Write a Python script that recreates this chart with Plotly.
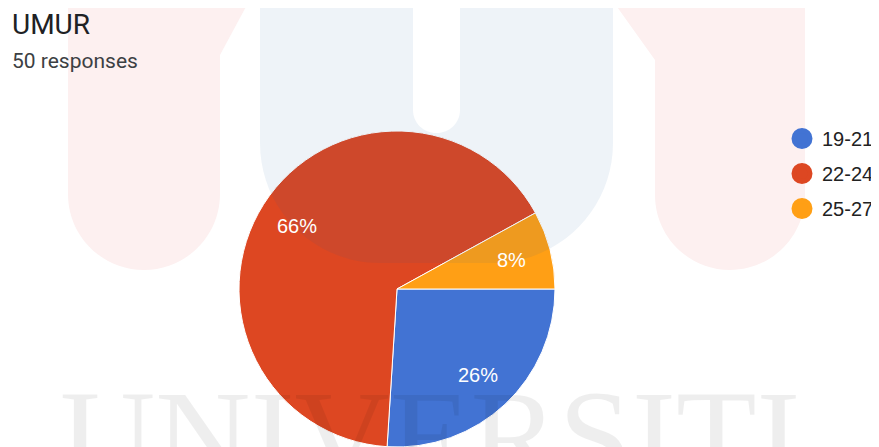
import math
import plotly.graph_objects as go

# chart data
age_groups = ["19-21", "22-24", "25-27"]
respondents = [13, 33, 4]
slice_colors = ["#4273d3", "#dd4722", "#ff9f15"]
title_text = "UMUR"
subtitle_text = "50 responses"
watermark_text = "UNIVERSITI"

# page is 879x447 but the body has an 8px margin, so the figure is 871x439
# and the hidden axes map 1 unit to 1 page pixel
PAGE_W, PAGE_H, OFF = 879, 447, 8
W, H = PAGE_W - OFF, PAGE_H - OFF
K = 0.5523  # bezier factor for quarter circles

# pie placement (page pixels)
PIE_CX, PIE_CY, PIE_R = 397, 289, 158


def round_bottom(x0, x1, yb, r):
    # path piece: down the left side, round bottom corners, up to the right side
    cy = yb - r
    kr = K * r
    return (f"L {x0},{cy} C {x0},{cy + kr} {x0 + r - kr},{yb} {x0 + r},{yb} "
            f"L {x1 - r},{yb} C {x1 - r + kr},{yb} {x1},{cy + kr} {x1},{cy} ")


# faint logo watermark behind / over the chart
left_pill = "M 68,-10 " + round_bottom(68, 220, 270, 76) + "L 220,55 L 255,-10 Z"
right_pill = "M 605,-10 L 655,60 " + round_bottom(655, 805, 270, 75) + "L 805,-10 Z"
blue_u = ("M 260,-10 " + round_bottom(260, 613, 263, 120) + "L 613,-10 L 460,-10 "
          + "L 460,110 C 460,123 449.5,133 436.5,133 C 423.5,133 413,123 413,110 "
          + "L 413,-10 Z")

fig = go.Figure()

fig.add_trace(go.Pie(
    labels=age_groups,
    values=respondents,
    sort=False,
    direction="clockwise",
    rotation=90,
    marker=dict(colors=slice_colors, line=dict(color="white", width=1)),
    textinfo="none",
    showlegend=False,
    domain=dict(x=[(PIE_CX - PIE_R - OFF) / W, (PIE_CX + PIE_R - OFF) / W],
                y=[0, 1 - (PIE_CY - PIE_R - OFF) / H]),
))

# legend entries with round markers
for name, color in zip(age_groups, slice_colors):
    fig.add_trace(go.Scatter(
        x=[None], y=[None], mode="markers", name=name, legendgroup=name,
        marker=dict(symbol="circle", size=16, color=color,
                    line=dict(color=color, width=5)),
    ))

# percent labels at 3/4 of the radius, along the middle of each slice
annotations = []
total = sum(respondents)
start = 0.0
for v in respondents:
    mid = (start + v / 2) / total * 2 * math.pi  # clockwise from 3 o'clock
    start += v
    annotations.append(dict(
        text=f"{round(100 * v / total)}%",
        x=PIE_CX + 0.75 * PIE_R * math.cos(mid),
        y=PIE_CY + 0.75 * PIE_R * math.sin(mid),
        xref="x", yref="y", showarrow=False,
        font=dict(size=20, family="Liberation Sans, Arial", color="white"),
    ))

annotations += [
    dict(text=title_text, x=10, y=24, xref="x", yref="y",
         xanchor="left", yanchor="middle", showarrow=False,
         font=dict(size=28, family="Roboto", color="#202124")),
    dict(text=subtitle_text, x=10, y=61, xref="x", yref="y",
         xanchor="left", yanchor="middle", showarrow=False,
         font=dict(size=21, family="Roboto", color="#3c4043")),
    dict(text=watermark_text, x=58, y=361, xref="x", yref="y",
         xanchor="left", yanchor="top", showarrow=False,
         font=dict(size=132, family="Liberation Serif", color="rgba(0,0,0,0.065)")),
]

fig.update_layout(
    width=W,
    height=H,
    margin=dict(l=0, r=0, t=0, b=0),
    paper_bgcolor="white",
    plot_bgcolor="white",
    xaxis=dict(range=[OFF, PAGE_W], visible=False, fixedrange=True),
    yaxis=dict(range=[PAGE_H, OFF], visible=False, fixedrange=True),
    legend=dict(
        x=1, y=1 - (119 - OFF) / H, xanchor="right", yanchor="top",
        font=dict(size=20, family="Liberation Sans, Arial", color="#222222"),
        bgcolor="rgba(0,0,0,0)", tracegroupgap=6,
    ),
    shapes=[
        dict(type="path", path=left_pill, xref="x", yref="y",
             fillcolor="#fdf0f0", line=dict(width=0), layer="below"),
        dict(type="path", path=right_pill, xref="x", yref="y",
             fillcolor="#fdf0f0", line=dict(width=0), layer="below"),
        dict(type="path", path=blue_u, xref="x", yref="y",
             fillcolor="#1f5fa0", opacity=0.075, line=dict(width=0), layer="above"),
    ],
    annotations=annotations,
)

fig.write_html("out.html")
